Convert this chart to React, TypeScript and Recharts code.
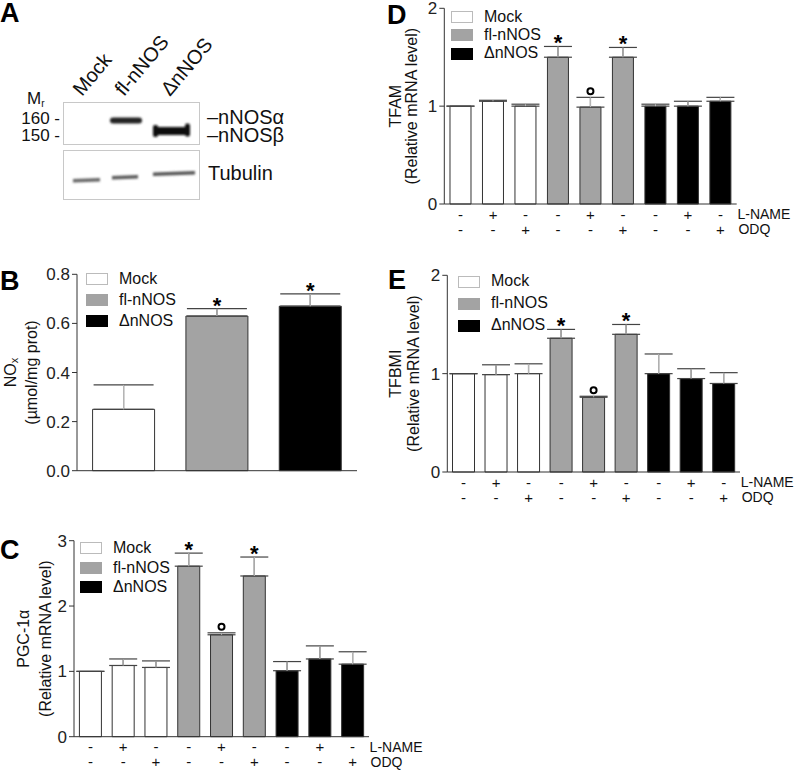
import React from 'react';
import { BarChart, Bar, XAxis, YAxis, ErrorBar, Cell, LabelList, Legend, Label } from 'recharts';

const FONT = '"Liberation Sans", Arial, Helvetica, sans-serif';

// legend / group styling
const legendNames = ['Mock', 'fl-nNOS', '\u0394nNOS'];
const groupFill = ['#ffffff', '#a3a3a3', '#000000'];
const swatchStroke = ['#bbbbbb', '#a3a3a3', '#000000'];

// panel B: NOx
const noxGroups = [0, 1, 2];
const noxMean = [0.25, 0.63, 0.67];
const noxErr = [0.1, 0.03, 0.05];
const noxMarks = ['', '*', '*'];
const noxTicks = [0, 0.2, 0.4, 0.6, 0.8];

// panels C-E share the same 9 conditions
const condGroups = [0, 0, 0, 1, 1, 1, 2, 2, 2];
const lnameSigns = ['-', '+', '-', '-', '+', '-', '-', '+', '-'];
const odqSigns = ['-', '-', '+', '-', '-', '+', '-', '-', '+'];

// panel C: PGC-1a
const pgcMean = [1.0, 1.09, 1.06, 2.61, 1.56, 2.46, 1.01, 1.19, 1.11];
const pgcErr = [0, 0.1, 0.1, 0.2, 0.03, 0.29, 0.14, 0.2, 0.19];
const pgcMarks = ['', '', '', '*', 'o', '*', '', '', ''];
const pgcTicks = [0, 1, 2, 3];

// panel D: TFAM
const tfamMean = [1.0, 1.05, 1.0, 1.5, 0.99, 1.5, 1.0, 1.0, 1.05];
const tfamErr = [0, 0.01, 0.02, 0.11, 0.1, 0.1, 0.02, 0.05, 0.04];
const tfamMarks = ['', '', '', '*', 'o', '*', '', '', ''];

// panel E: TFBMI
const tfbMean = [1.0, 0.99, 1.0, 1.36, 0.76, 1.4, 1.0, 0.95, 0.9];
const tfbErr = [0, 0.1, 0.1, 0.09, 0.01, 0.1, 0.2, 0.1, 0.11];
const tfbMarks = ['', '', '', '*', 'o', '*', '', '', ''];
const relTicks = [0, 1, 2];

type Geo = {
  left: number; top: number; width: number; height: number;
  mTop: number; mRight: number; yWidth: number; xHeight: number;
};

function makeRows(mean: number[], err: number[]) {
  return mean.map((v, i) => ({ i, value: v, err: [0, err[i]] }));
}

const markContent = (mean: number[], err: number[], marks: string[]) => (props: any) => {
  const vb = props.viewBox && props.viewBox.width != null ? props.viewBox : props;
  const { x, y, width, height } = vb;
  const i = Number(props.value);
  const m = marks[i];
  if (!m || !isFinite(x) || !isFinite(y)) return null;
  const ppu = Math.abs(height) / mean[i];
  const capY = Math.min(y, y + height) - err[i] * ppu;
  const cx = x + width / 2;
  if (m === '*') {
    return (
      <text x={cx} y={capY + 4} textAnchor="middle" fontSize={22} fontWeight="bold" fontFamily={FONT} fill="#000">
        *
      </text>
    );
  }
  return <circle cx={cx} cy={capY - 6} r={3} fill="none" stroke="#000" strokeWidth={2} />;
};

function SignTick(props: any) {
  const { x, y, payload } = props;
  const i = Number(payload.value);
  const st = { fontSize: 15, fontFamily: FONT, fill: '#111' };
  return (
    <g>
      <text x={x} y={y + 10} textAnchor="middle" dominantBaseline="central" {...st}>{lnameSigns[i]}</text>
      <text x={x} y={y + 25} textAnchor="middle" dominantBaseline="central" {...st}>{odqSigns[i]}</text>
      {i === 8 && (
        <>
          <text x={x + 17} y={y + 10} dominantBaseline="central" fontSize={14} fontFamily={FONT} fill="#111">L-NAME</text>
          <text x={x + 18} y={y + 25} dominantBaseline="central" fontSize={14} fontFamily={FONT} fill="#111">ODQ</text>
        </>
      )}
    </g>
  );
}

function LegendBox({ rowGap, textDx }: { rowGap: number; textDx: number }) {
  return (
    <div style={{ fontFamily: FONT, fontSize: 16, color: '#111' }}>
      {legendNames.map((n, k) => (
        <div key={n} style={{ position: 'relative', height: rowGap, lineHeight: `${rowGap}px` }}>
          <span
            style={{
              position: 'absolute', left: 0, top: (rowGap - 11) / 2, width: 20, height: 10,
              background: groupFill[k], border: `1px solid ${swatchStroke[k]}`,
            }}
          />
          <span style={{ position: 'absolute', left: textDx, top: 0, whiteSpace: 'nowrap' }}>{n}</span>
        </div>
      ))}
    </div>
  );
}

function YTitle({ vb, dx1, dx2, line1, line2 }: any) {
  const cy = vb.y + vb.height / 2;
  const x1 = vb.x + dx1;
  const x2 = vb.x + dx2;
  return (
    <g>
      <text x={x1} y={cy} textAnchor="middle" dominantBaseline="central" fontFamily={FONT} fontSize={16} fill="#111"
        transform={`rotate(-90 ${x1} ${cy})`}>{line1}</text>
      <text x={x2} y={cy} textAnchor="middle" dominantBaseline="central" fontFamily={FONT} fontSize={16} fill="#111"
        transform={`rotate(-90 ${x2} ${cy})`}>{line2}</text>
    </g>
  );
}

function Panel(props: {
  geo: Geo; groups: number[]; mean: number[]; err: number[]; marks: string[];
  ticks: number[]; max: number; decimals: number; cap: number; signs: boolean; gap: string;
  title1: React.ReactNode; title2: string; tdx1: number; tdx2: number;
  legend: { left: number; top: number; rowGap: number; textDx: number };
}) {
  const { geo } = props;
  const rows = makeRows(props.mean, props.err);
  return (
    <div style={{ position: 'absolute', left: geo.left, top: geo.top }}>
      <BarChart
        width={geo.width}
        height={geo.height}
        data={rows}
        margin={{ top: geo.mTop, right: geo.mRight, bottom: 0, left: 0 }}
        barCategoryGap={props.gap}
      >
        <XAxis
          dataKey="i"
          type="category"
          height={geo.xHeight}
          stroke="#333"
          tickLine={false}
          tickSize={0}
          tickMargin={0}
          interval={0}
          tick={props.signs ? (p: any) => <SignTick {...p} /> : false}
        />
        <YAxis
          type="number"
          domain={[0, props.max]}
          ticks={props.ticks}
          interval={0}
          width={geo.yWidth}
          stroke="#333"
          tickSize={5}
          tickMargin={2}
          tick={{ fontSize: 17, fontFamily: FONT, fill: '#222' }}
          tickFormatter={(v: number) => v.toFixed(props.decimals)}
        >
          <Label
            content={(p: any) => (
              <YTitle vb={p.viewBox} dx1={props.tdx1} dx2={props.tdx2} line1={props.title1} line2={props.title2} />
            )}
          />
        </YAxis>
        <Legend
          layout="vertical"
          align="center"
          verticalAlign="middle"
          wrapperStyle={{ left: props.legend.left, top: props.legend.top, width: 120, height: 'auto' }}
          content={() => <LegendBox rowGap={props.legend.rowGap} textDx={props.legend.textDx} />}
        />
        <Bar dataKey="value" isAnimationActive={false} stroke="#333" strokeWidth={1}>
          {rows.map((r) => (
            <Cell key={r.i} fill={groupFill[props.groups[r.i]]} />
          ))}
          <ErrorBar dataKey="err" direction="y" width={props.cap} stroke="#444" strokeWidth={1.2} isAnimationActive={false} />
          <ErrorBar dataKey="err" direction="y" width={0} stroke="#b5b5b5" strokeWidth={1.2} isAnimationActive={false} />
          <LabelList dataKey="i" content={markContent(props.mean, props.err, props.marks)} />
        </Bar>
      </BarChart>
    </div>
  );
}

function Letter({ x, y, c }: { x: number; y: number; c: string }) {
  return (
    <div style={{ position: 'absolute', left: x, top: y, fontFamily: FONT, fontWeight: 'bold', fontSize: 27, lineHeight: '27px', color: '#000' }}>
      {c}
    </div>
  );
}

function Blot() {
  const t = { fontFamily: FONT, fill: '#111' };
  return (
    <svg width={300} height={210} style={{ position: 'absolute', left: 0, top: 0 }}>
      <defs>
        <filter id="bl" x="-20%" y="-50%" width="140%" height="200%">
          <feGaussianBlur stdDeviation="1" />
        </filter>
      </defs>
      <text x={82} y={97} fontSize={20} transform="rotate(-50 82 97)" {...t}>Mock</text>
      <text x={124} y={97} fontSize={20} transform="rotate(-50 124 97)" {...t}>fl-nNOS</text>
      <text x={170} y={97} fontSize={20} transform="rotate(-50 170 97)" {...t}>{'\u0394nNOS'}</text>
      <text x={27} y={104} fontSize={17} {...t}>M<tspan fontSize={10} dy={3}>r</tspan></text>
      <text x={60} y={118} fontSize={17} textAnchor="end" dominantBaseline="central" {...t}>160 -</text>
      <text x={60} y={135} fontSize={17} textAnchor="end" dominantBaseline="central" {...t}>150 -</text>
      <rect x={63.5} y={102.5} width={136} height={42} fill="#fff" stroke="#c8c8c8" />
      <rect x={63.5} y={150.5} width={136} height={49} fill="#fff" stroke="#c8c8c8" />
      <g filter="url(#bl)">
        <rect x={110} y={117.5} width={32} height={6} rx={3} fill="#222" />
        <rect x={153} y={127} width={37} height={8} rx={3} fill="#080808" />
        <rect x={153} y={125} width={5} height={12} rx={2} fill="#111" />
        <rect x={185} y={123.5} width={5} height={13} rx={2} fill="#111" />
        <polygon points="73,179 100,178 100,181.5 73,182.5" fill="#666" />
        <polygon points="112,176 138,175 138,178.5 112,179.5" fill="#5a5a5a" />
        <polygon points="153,172.5 195,171 195,174.5 153,176" fill="#555" />
      </g>
      <text x={207} y={117} fontSize={20} dominantBaseline="central" {...t}>{'\u2013nNOS\u03b1'}</text>
      <text x={207} y={135} fontSize={20} dominantBaseline="central" {...t}>{'\u2013nNOS\u03b2'}</text>
      <text x={208} y={173} fontSize={20} dominantBaseline="central" {...t}>Tubulin</text>
    </svg>
  );
}

export default function App() {
  return (
    <div style={{ position: 'absolute', left: 0, top: 0, width: 800, height: 771, background: '#fff', overflow: 'hidden', fontFamily: FONT }}>
      <Blot />
      <Letter x={0} y={0} c="A" />
      <Letter x={0} y={268} c="B" />
      <Letter x={0} y={537} c="C" />

      <Panel
        geo={{ left: 0, top: 250, width: 380, height: 250, mTop: 24.3, mRight: 23, yWidth: 77, xHeight: 29.3 }}
        groups={noxGroups}
        mean={noxMean}
        err={noxErr}
        marks={noxMarks}
        ticks={noxTicks}
        max={0.8}
        decimals={1}
        cap={30}
        signs={false}
        gap="16.7%"
        title1={<>NO<tspan fontSize={11} dy={4}>x</tspan></>}
        title2={'(\u00b5mol/mg prot)'}
        tdx1={10}
        tdx2={31}
        legend={{ left: 86, top: 18, rowGap: 21, textDx: 33 }}
      />
      <Panel
        geo={{ left: 0, top: 510, width: 440, height: 261, mTop: 30.7, mRight: 71, yWidth: 74, xHeight: 34.3 }}
        groups={condGroups}
        mean={pgcMean}
        err={pgcErr}
        marks={pgcMarks}
        ticks={pgcTicks}
        max={3}
        decimals={0}
        cap={14}
        signs={true}
        gap="16.5%"
        title1={'PGC-1\u03b1'}
        title2="(Relative mRNA level)"
        tdx1={24}
        tdx2={46}
        legend={{ left: 80, top: 28, rowGap: 19.5, textDx: 33 }}
      />
      <Panel
        geo={{ left: 375, top: 0, width: 425, height: 240, mTop: 8.3, mRight: 63.3, yWidth: 69.3, xHeight: 36 }}
        groups={condGroups}
        mean={tfamMean}
        err={tfamErr}
        marks={tfamMarks}
        ticks={relTicks}
        max={2}
        decimals={0}
        cap={14}
        signs={true}
        gap="17.5%"
        title1="TFAM"
        title2="(Relative mRNA level)"
        tdx1={21}
        tdx2={37}
        legend={{ left: 76, top: 7.5, rowGap: 18.3, textDx: 33 }}
      />
      <Panel
        geo={{ left: 375, top: 250, width: 425, height: 260, mTop: 25.3, mRight: 60, yWidth: 72.3, xHeight: 38 }}
        groups={condGroups}
        mean={tfbMean}
        err={tfbErr}
        marks={tfbMarks}
        ticks={relTicks}
        max={2}
        decimals={0}
        cap={14}
        signs={true}
        gap="16%"
        title1="TFBMI"
        title2="(Relative mRNA level)"
        tdx1={21}
        tdx2={39}
        legend={{ left: 83, top: 20, rowGap: 22, textDx: 33 }}
      />
      <Letter x={387} y={2} c="D" />
      <Letter x={388} y={267} c="E" />
    </div>
  );
}
